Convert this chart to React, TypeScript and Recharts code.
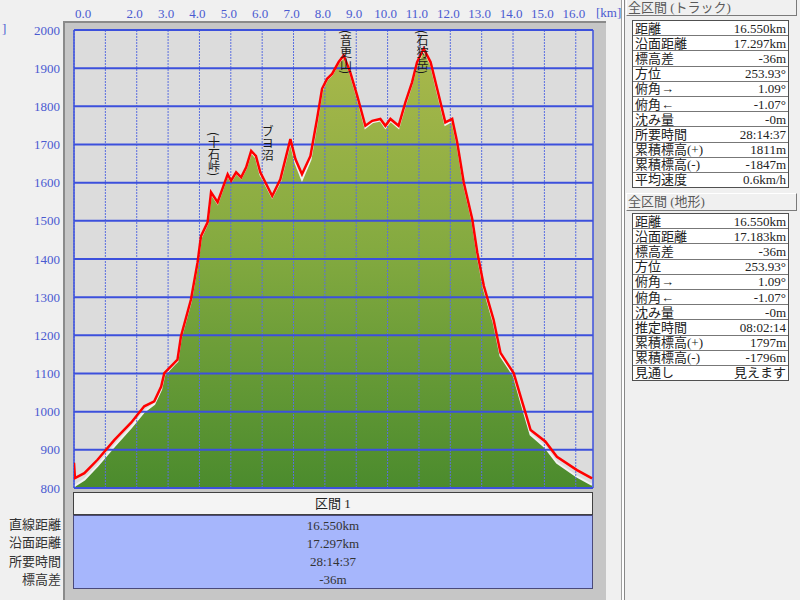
import { ComposedChart, Area, Line, XAxis, YAxis, CartesianGrid, ReferenceLine, ReferenceDot } from 'recharts';

const distanceKm = [
  0, 0.03, 0.33, 0.75, 1.29, 1.82, 2.24, 2.56, 2.78, 2.88, 3.2, 3.3, 3.41, 3.73, 3.94, 4.05, 4.26, 4.37,
  4.58, 4.9, 5.01, 5.17, 5.33, 5.49, 5.65, 5.8, 5.94, 6.32, 6.58, 6.9, 7.06, 7.27, 7.54, 7.75, 7.91, 8.07,
  8.23, 8.44, 8.6, 8.81, 9.03, 9.29, 9.51, 9.77, 9.93, 10.09, 10.35, 10.57, 10.78, 10.94, 11.15, 11.37,
  11.58, 11.84, 12.06, 12.22, 12.43, 12.7, 12.86, 13.07, 13.38, 13.6, 14.02, 14.24, 14.4, 14.56, 15.03,
  15.4, 16.04, 16.52,
];
const trackElevation = [
  866, 826, 839, 874, 926, 971, 1014, 1027, 1066, 1101, 1128, 1136, 1197, 1294, 1391, 1460, 1496, 1575,
  1549, 1622, 1605, 1627, 1614, 1640, 1683, 1670, 1627, 1565, 1609, 1714, 1662, 1622, 1670, 1767, 1846, 1872,
  1885, 1916, 1933, 1889, 1828, 1749, 1762, 1767, 1749, 1767, 1749, 1811, 1863, 1916, 1951, 1916,
  1846, 1758, 1767, 1705, 1600, 1504, 1417, 1329, 1241, 1154, 1101, 1040, 996, 952, 922,
  882, 847, 825,
];
const terrainElevation = [
  802, 806, 822, 858, 910, 958, 1000, 1020, 1058, 1096, 1124, 1132, 1194, 1290, 1388, 1456, 1494, 1572,
  1546, 1620, 1603, 1625, 1612, 1638, 1680, 1666, 1622, 1562, 1604, 1708, 1652, 1608, 1660, 1760, 1842, 1870,
  1883, 1914, 1930, 1886, 1824, 1744, 1758, 1763, 1744, 1762, 1744, 1806, 1860, 1912, 1946, 1912,
  1840, 1752, 1762, 1700, 1596, 1500, 1412, 1322, 1234, 1146, 1094, 1030, 985, 940, 906,
  866, 830, 808,
];
const totalKm = 16.55;
const kmTicks = [0, 1, 2, 3, 4, 5, 6, 7, 8, 9, 10, 11, 12, 13, 14, 15, 16];
const elevationTicks = [800, 900, 1000, 1100, 1200, 1300, 1400, 1500, 1600, 1700, 1800, 1900, 2000];

const peakNames = ['(十石峠)', 'ブヨ沼', '(音更山)', '(石狩岳)'];
const peakKm = [4.45, 6.16, 8.66, 11.1];
const peakLabelTop = [1734, 1750, 2000, 2000];

const trackStats = [
  ['距離', '16.550km'], ['沿面距離', '17.297km'], ['標高差', '-36m'], ['方位', '253.93°'],
  ['俯角→', '1.09°'], ['俯角←', '-1.07°'], ['沈み量', '-0m'], ['所要時間', '28:14:37'],
  ['累積標高(+)', '1811m'], ['累積標高(-)', '-1847m'], ['平均速度', '0.6km/h'],
];
const terrainStats = [
  ['距離', '16.550km'], ['沿面距離', '17.183km'], ['標高差', '-36m'], ['方位', '253.93°'],
  ['俯角→', '1.09°'], ['俯角←', '-1.07°'], ['沈み量', '-0m'], ['推定時間', '08:02:14'],
  ['累積標高(+)', '1797m'], ['累積標高(-)', '-1796m'], ['見通し', '見えます'],
];
const sectionLabels = ['直線距離', '沿面距離', '所要時間', '標高差'];
const sectionValues = ['16.550km', '17.297km', '28:14:37', '-36m'];

const profile = distanceKm.map((km, i) => ({ km, track: trackElevation[i], terrain: terrainElevation[i] }));

const FONT = "'Liberation Serif', 'Noto Sans CJK JP', serif";
const AXIS_BLUE = '#4a5ad0';

const KmTick = ({ x, y, payload }: any) => {
  const v = payload.value;
  if (v === 1) return null;
  return (
    <text
      x={v === 0 ? x + 1 : x - 2}
      y={y}
      textAnchor={v === 0 ? 'start' : 'middle'}
      dominantBaseline="central"
      fill={AXIS_BLUE}
      fontSize={13}
      fontFamily={FONT}
    >
      {v.toFixed(1)}
    </text>
  );
};

const PeakLabel = ({ viewBox, text }: any) => {
  if (!viewBox) return null;
  return (
    <foreignObject x={viewBox.x - 10} y={viewBox.y} width={20} height={70}>
      <div
        style={{
          writingMode: 'vertical-rl',
          fontFamily: "'Noto Sans CJK JP', sans-serif",
          fontSize: 12,
          lineHeight: '20px',
          color: '#1a1a1a',
          height: 70,
        }}
      >
        {text}
      </div>
    </foreignObject>
  );
};

function StatsTable({ rows, top }: { rows: string[][]; top: number }) {
  return (
    <div
      style={{
        position: 'absolute', left: 632, top, width: 157, height: 168,
        border: '1px solid #505050', boxSizing: 'border-box', display: 'flex', flexDirection: 'column',
      }}
    >
      {rows.map(([label, value], i) => (
        <div
          key={i}
          style={{
            flex: 1, display: 'flex', justifyContent: 'space-between', alignItems: 'center',
            background: '#fff', borderTop: i === 0 ? 'none' : '1px solid #777',
            padding: '0 2px', fontSize: 13, color: '#222', lineHeight: 1,
          }}
        >
          <span>{label}</span>
          <span>{value}</span>
        </div>
      ))}
    </div>
  );
}

function PanelHeader({ text, top, height }: { text: string; top: number; height: number }) {
  return (
    <div
      style={{
        position: 'absolute', left: 626, top, width: 171, height, boxSizing: 'border-box',
        borderRight: '1px solid #7a7a7a', borderBottom: '1px solid #7a7a7a',
        borderLeft: '1px solid #fff', borderTop: '1px solid #fff',
        fontSize: 13, color: '#5a5a5a', lineHeight: `${height - 2}px`, paddingLeft: 1,
      }}
    >
      {text}
    </div>
  );
}

export default function App() {
  return (
    <div
      style={{
        position: 'fixed', left: 0, top: 0, width: 800, height: 600, background: '#f0f0f0',
        fontFamily: FONT, overflow: 'hidden',
      }}
    >
      <div
        style={{
          position: 'absolute', left: 63, top: 21, width: 543, height: 579, background: '#c6c6c6',
          borderLeft: '2px solid #8a8a8a', borderTop: '2px solid #8a8a8a', boxSizing: 'border-box',
        }}
      />
      <div style={{ position: 'absolute', left: 2, top: 21, fontSize: 13, color: AXIS_BLUE }}>]</div>
      <div style={{ position: 'absolute', left: 596, top: 5, fontSize: 13, color: AXIS_BLUE }}>[km]</div>

      <div style={{ position: 'absolute', left: 0, top: 0 }}>
        <ComposedChart
          width={600}
          height={500}
          data={profile}
          margin={{ top: 0, right: 7, bottom: 12, left: 14 }}
        >
          <defs>
            <linearGradient id="terrainFill" x1="0" y1="0" x2="0" y2="1">
              <stop offset="0%" stopColor="#a9b84b" />
              <stop offset="45%" stopColor="#84aa40" />
              <stop offset="100%" stopColor="#4b8b2d" />
            </linearGradient>
          </defs>
          <CartesianGrid fill="#dcdcdc" horizontal={false} vertical={false} />
          <XAxis
            dataKey="km"
            type="number"
            orientation="top"
            domain={[0, totalKm]}
            ticks={kmTicks}
            interval={0}
            height={30}
            axisLine={false}
            tickLine={false}
            tickSize={0}
            tickMargin={17}
            tick={<KmTick />}
            allowDataOverflow
          />
          <YAxis
            type="number"
            domain={[800, 2000]}
            ticks={elevationTicks}
            interval={0}
            width={60}
            axisLine={false}
            tickLine={false}
            tickSize={0}
            tickMargin={14}
            tick={{ fill: AXIS_BLUE, fontSize: 13, fontFamily: FONT }}
            allowDataOverflow
          />
          <Area
            type="linear"
            dataKey="terrain"
            stroke="#f2f2f2"
            strokeWidth={2}
            fill="url(#terrainFill)"
            fillOpacity={1}
            isAnimationActive={false}
            dot={false}
            activeDot={false}
          />
          {kmTicks.map((v) => (
            <ReferenceLine key={`vx${v}`} x={v} stroke="#5a6ee0" strokeWidth={1} strokeDasharray="2 1" zIndex={300} />
          ))}
          {elevationTicks.map((v) => (
            <ReferenceLine key={`hy${v}`} y={v} stroke="#3c50dc" strokeWidth={2} zIndex={300} />
          ))}
          <ReferenceLine x={0} stroke="#3c50dc" strokeWidth={1.5} zIndex={300} />
          <ReferenceLine x={totalKm} stroke="#3c50dc" strokeWidth={1.5} zIndex={300} />
          <Line
            type="linear"
            dataKey="track"
            stroke="#ff0000"
            strokeWidth={2.5}
            dot={false}
            activeDot={false}
            isAnimationActive={false}
          />
          {peakNames.map((name, i) => (
            <ReferenceDot
              key={name}
              x={peakKm[i]}
              y={peakLabelTop[i]}
              r={0}
              fill="none"
              stroke="none"
              label={<PeakLabel text={name} />}
              zIndex={2000}
            />
          ))}
        </ComposedChart>
      </div>

      <div
        style={{
          position: 'absolute', left: 73, top: 492, width: 520, height: 23, boxSizing: 'border-box',
          background: '#f4f4f4', border: '1px solid #404040', textAlign: 'center',
          fontSize: 13, lineHeight: '21px', color: '#222',
        }}
      >
        区間 1
      </div>
      <div
        style={{
          position: 'absolute', left: 73, top: 515, width: 520, height: 74, boxSizing: 'border-box',
          background: '#a6b6fc', border: '1px solid #4a4a7a', display: 'flex', flexDirection: 'column',
          paddingTop: 1,
        }}
      >
        {sectionValues.map((v) => (
          <div key={v} style={{ height: 18.3, lineHeight: '18px', textAlign: 'center', fontSize: 13, color: '#333' }}>
            {v}
          </div>
        ))}
      </div>
      <div style={{ position: 'absolute', left: 0, top: 516, width: 61 }}>
        {sectionLabels.map((v) => (
          <div key={v} style={{ height: 18.3, lineHeight: '18px', textAlign: 'right', fontSize: 13, color: '#333' }}>
            {v}
          </div>
        ))}
      </div>

      <div
        style={{
          position: 'absolute', left: 621, top: 0, width: 4, height: 600, boxSizing: 'border-box',
          background: '#fff', borderLeft: '1px solid #a0a0a0', borderRight: '1px solid #888',
        }}
      />
      <PanelHeader text="全区間 (トラック)" top={-1} height={17} />
      <StatsTable rows={trackStats} top={20} />
      <PanelHeader text="全区間 (地形)" top={193} height={18} />
      <StatsTable rows={terrainStats} top={213} />
    </div>
  );
}
